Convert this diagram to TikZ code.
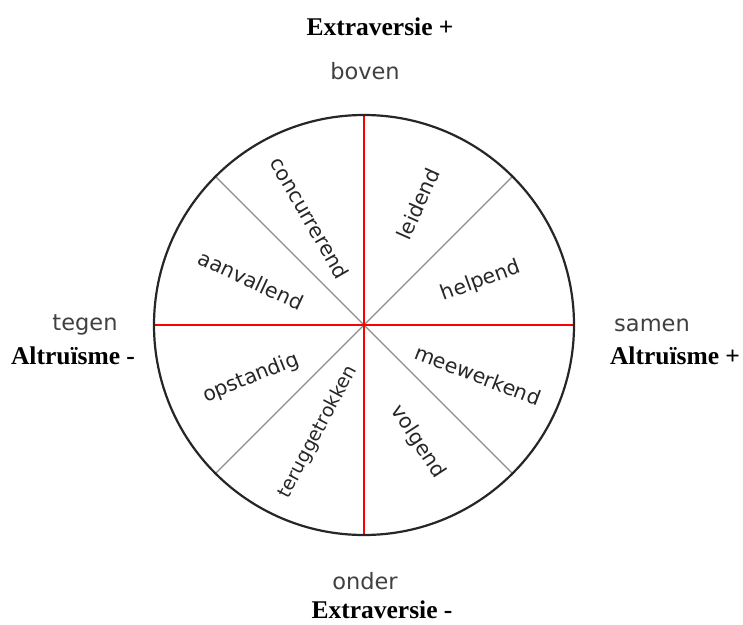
\documentclass[tikz,border=0pt]{standalone}
\usepackage{fontspec}
\usetikzlibrary{calc}
\setmainfont{Liberation Serif}
\newfontfamily\labfont{DejaVu Sans}
\begin{document}
\begin{tikzpicture}[x=1pt,y=1pt,
  inner/.style={font=\labfont\fontsize{20.5}{23}\selectfont, text=black!85, inner sep=0pt},
  outer/.style={font=\labfont\fontsize{22.5}{25}\selectfont, text=black!75, inner sep=0pt},
  axislab/.style={font=\bfseries\fontsize{25.5}{28}\selectfont, text=black, inner sep=0pt},
  redline/.style={red, line width=1.6pt},
  greyline/.style={black!45, line width=1.1pt}]
\useasboundingbox (0,0) rectangle (743,624);
\coordinate (C) at (364,299);
\coordinate (N) at (364,509);
\coordinate (S) at (364,89);
\coordinate (W) at (154,299);
\coordinate (E) at (574,299);
\coordinate (NE) at ($(C)+(45:210)$);
\coordinate (NW) at ($(C)+(135:210)$);
\coordinate (SW) at ($(C)+(225:210)$);
\coordinate (SE) at ($(C)+(315:210)$);
\draw[greyline] (NE) -- (SW);
\draw[greyline] (NW) -- (SE);
\draw[redline] (N) -- (S);
\draw[redline] (W) -- (E);
\draw[black!85, line width=2.2pt] (C) circle[radius=210];
% sector labels
\node[inner, rotate=-60] (concurrerend) at (310,406) {concurrerend};
\node[inner, rotate=66] (leidend) at (418,420) {leidend};
\node[inner, rotate=20] (helpend) at (481,343) {helpend};
\node[inner, rotate=-25] (aanvallend) at (251,344) {aanvallend};
\node[inner, rotate=22] (opstandig) at (251,246) {opstandig};
\node[inner, rotate=62, font=\labfont\fontsize{19}{21}\selectfont] (terug) at (318,192) {teruggetrokken};
\node[inner, rotate=-21] (meewerkend) at (478,249) {meewerkend};
\node[inner, rotate=-57] (volgend) at (418,182) {volgend};
% outer labels
\node[axislab] (eplus) at (380,597) {Extraversie +};
\node[outer] (boven) at (365,553) {boven};
\node[outer] (tegen) at (85,299) {tegen};
\node[axislab] (amin) at (73,268) {Altruïsme -};
\node[outer] (samen) at (652,299) {samen};
\node[axislab] (aplus) at (675,268) {Altruïsme +};
\node[outer] (onder) at (365,43) {onder};
\node[axislab] (emin) at (382,14) {Extraversie -};
\end{tikzpicture}
\end{document}
